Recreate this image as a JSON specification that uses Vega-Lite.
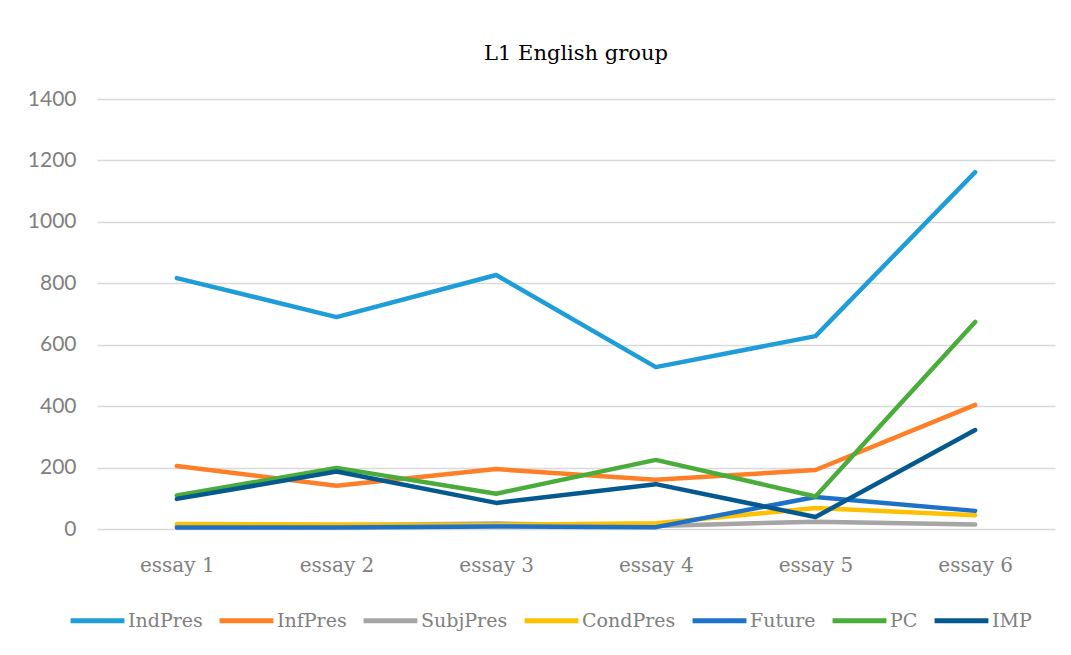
{
  "$schema": "https://vega.github.io/schema/vega-lite/v6.json",
  "width": 958,
  "height": 430,
  "autosize": {"type": "none"},
  "padding": {"left": 97, "top": 99, "right": 16, "bottom": 126},
  "background": "white",
  "title": {
    "text": "L1 English group",
    "font": "DejaVu Serif",
    "fontSize": 21,
    "fontWeight": "normal",
    "color": "#000000",
    "anchor": "middle",
    "offset": 24
  },
  "data": {
    "values": [
      {"essay": "essay 1", "series": "IndPres", "count": 817},
      {"essay": "essay 2", "series": "IndPres", "count": 690},
      {"essay": "essay 3", "series": "IndPres", "count": 827},
      {"essay": "essay 4", "series": "IndPres", "count": 527},
      {"essay": "essay 5", "series": "IndPres", "count": 628},
      {"essay": "essay 6", "series": "IndPres", "count": 1162},
      {"essay": "essay 1", "series": "InfPres", "count": 205},
      {"essay": "essay 2", "series": "InfPres", "count": 141},
      {"essay": "essay 3", "series": "InfPres", "count": 195},
      {"essay": "essay 4", "series": "InfPres", "count": 160},
      {"essay": "essay 5", "series": "InfPres", "count": 192},
      {"essay": "essay 6", "series": "InfPres", "count": 404},
      {"essay": "essay 1", "series": "SubjPres", "count": 12},
      {"essay": "essay 2", "series": "SubjPres", "count": 12},
      {"essay": "essay 3", "series": "SubjPres", "count": 18},
      {"essay": "essay 4", "series": "SubjPres", "count": 10},
      {"essay": "essay 5", "series": "SubjPres", "count": 24},
      {"essay": "essay 6", "series": "SubjPres", "count": 15},
      {"essay": "essay 1", "series": "CondPres", "count": 16},
      {"essay": "essay 2", "series": "CondPres", "count": 15},
      {"essay": "essay 3", "series": "CondPres", "count": 13},
      {"essay": "essay 4", "series": "CondPres", "count": 19},
      {"essay": "essay 5", "series": "CondPres", "count": 68},
      {"essay": "essay 6", "series": "CondPres", "count": 45},
      {"essay": "essay 1", "series": "Future", "count": 5},
      {"essay": "essay 2", "series": "Future", "count": 5},
      {"essay": "essay 3", "series": "Future", "count": 8},
      {"essay": "essay 4", "series": "Future", "count": 6},
      {"essay": "essay 5", "series": "Future", "count": 104},
      {"essay": "essay 6", "series": "Future", "count": 59},
      {"essay": "essay 1", "series": "PC", "count": 109},
      {"essay": "essay 2", "series": "PC", "count": 199},
      {"essay": "essay 3", "series": "PC", "count": 115},
      {"essay": "essay 4", "series": "PC", "count": 225},
      {"essay": "essay 5", "series": "PC", "count": 106},
      {"essay": "essay 6", "series": "PC", "count": 674},
      {"essay": "essay 1", "series": "IMP", "count": 98},
      {"essay": "essay 2", "series": "IMP", "count": 187},
      {"essay": "essay 3", "series": "IMP", "count": 85},
      {"essay": "essay 4", "series": "IMP", "count": 146},
      {"essay": "essay 5", "series": "IMP", "count": 39},
      {"essay": "essay 6", "series": "IMP", "count": 322}
    ]
  },
  "mark": {"type": "line", "strokeWidth": 4.5, "strokeCap": "round", "strokeJoin": "round"},
  "encoding": {
    "x": {
      "field": "essay",
      "type": "ordinal",
      "scale": {"type": "point", "padding": 0.5},
      "axis": {
        "title": null,
        "labelAngle": 0,
        "labelFont": "DejaVu Serif",
        "labelFontSize": 20,
        "labelColor": "#808080",
        "labelPadding": 26,
        "domain": false,
        "ticks": false,
        "grid": false
      }
    },
    "y": {
      "field": "count",
      "type": "quantitative",
      "scale": {"domain": [0, 1400], "nice": false},
      "axis": {
        "title": null,
        "values": [0, 200, 400, 600, 800, 1000, 1200, 1400],
        "format": "d",
        "labelFont": "Lato",
        "labelFontSize": 21,
        "labelColor": "#808080",
        "labelPadding": 21,
        "domain": false,
        "ticks": false,
        "grid": true,
        "gridColor": "#d9d9d9",
        "gridWidth": 1.5
      }
    },
    "color": {
      "field": "series",
      "type": "nominal",
      "sort": null,
      "scale": {
        "domain": ["IndPres", "InfPres", "SubjPres", "CondPres", "Future", "PC", "IMP"],
        "range": ["#1f9dd9", "#ff7f27", "#a5a5a5", "#ffc000", "#1d72c8", "#4aac3a", "#045a8f"]
      },
      "legend": {
        "title": null,
        "orient": "none",
        "direction": "horizontal",
        "legendX": -29,
        "legendY": 492,
        "symbolType": "stroke",
        "symbolSize": 2900,
        "symbolStrokeWidth": 5,
        "labelFont": "DejaVu Serif",
        "labelFontSize": 19,
        "labelColor": "#808080",
        "labelOffset": 1,
        "columnPadding": 6
      }
    }
  },
  "config": {
    "view": {"stroke": null}
  }
}
